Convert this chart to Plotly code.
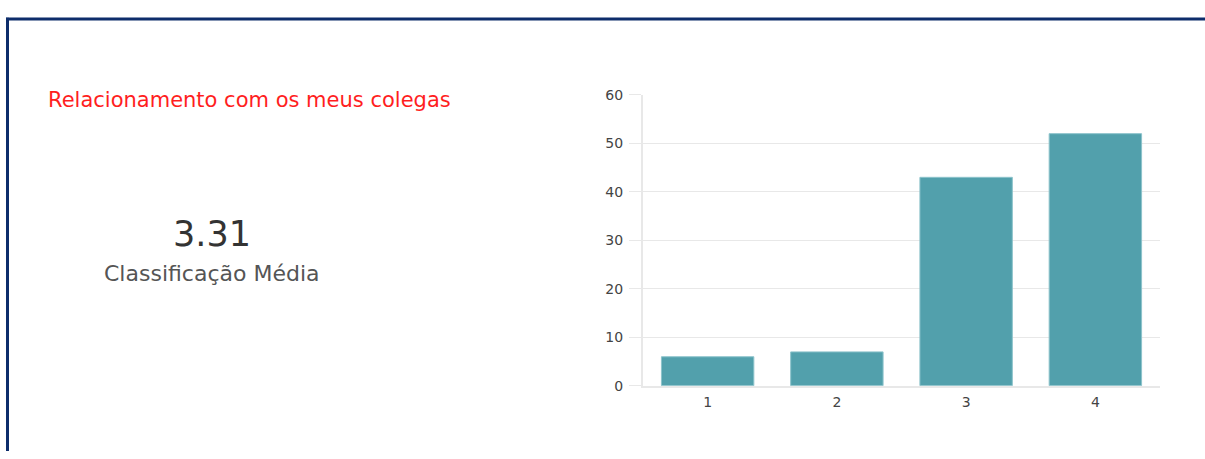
import plotly.graph_objects as go

categories = ["1", "2", "3", "4"]
counts = [6, 7, 43, 52]
y_ticks = [0, 10, 20, 30, 40, 50, 60]
title_text = "Relacionamento com os meus colegas"
avg_text = "3.31"
avg_label = "Classificação Média"

W, H = 1205, 459

def px(x):
    return x / W

def py(y):
    return 1 - y / H

fig = go.Figure()
fig.add_trace(go.Bar(
    x=categories, y=counts,
    marker=dict(color="#52a0ac", line=dict(color="#8cc3cb", width=1)),
    hoverinfo="skip",
))

grid = "#e8e8e8"
FONT = "DejaVu Sans, Verdana, sans-serif"
tickfont = dict(family=FONT, size=14, color="#444")

fig.update_layout(
    width=W, height=H,
    margin=dict(l=0, r=0, t=0, b=0),
    paper_bgcolor="white", plot_bgcolor="white",
    showlegend=False,
    bargap=0.285,
    xaxis=dict(
        domain=[px(643), px(1160)],
        showgrid=False, showline=True, linecolor=grid, linewidth=2,
        ticks="", tickfont=tickfont, fixedrange=True,
        ticklabelstandoff=2,
        anchor="y",
    ),
    yaxis=dict(
        domain=[py(391.5), py(90)],
        range=[0, 60], tickvals=y_ticks,
        showgrid=True, gridcolor=grid, gridwidth=1,
        showline=True, linecolor=grid, linewidth=2,
        zeroline=False,
        ticks="outside", ticklen=12, tickcolor=grid, tickwidth=1,
        tickfont=tickfont, ticklabelstandoff=3,
        anchor="x", fixedrange=True,
    ),
    shapes=[
        dict(type="line", xref="paper", yref="paper",
             x0=px(7.5), x1=px(7.5), y0=py(459), y1=py(10), line=dict(color="#0d2d6b", width=3)),
        dict(type="line", xref="paper", yref="paper",
             x0=px(6), x1=px(1205), y0=py(11.5), y1=py(11.5), line=dict(color="#0d2d6b", width=3)),
    ],
    annotations=[
        dict(text=title_text, xref="paper", yref="paper", x=px(46), y=py(95),
             xanchor="left", yanchor="middle", showarrow=False,
             font=dict(family=FONT, size=21, color="#ff1e1e")),
        dict(text=avg_text, xref="paper", yref="paper", x=px(212), y=py(234),
             xanchor="center", yanchor="middle", showarrow=False,
             font=dict(family=FONT, size=35, color="#333")),
        dict(text=avg_label, xref="paper", yref="paper", x=px(212), y=py(275),
             xanchor="center", yanchor="middle", showarrow=False,
             font=dict(family=FONT, size=22, color="#555")),
    ],
)

fig.write_html(
    "out.html",
    post_script="document.body.style.margin='0';document.body.style.overflow='hidden';",
    config={"displayModeBar": False},
)
